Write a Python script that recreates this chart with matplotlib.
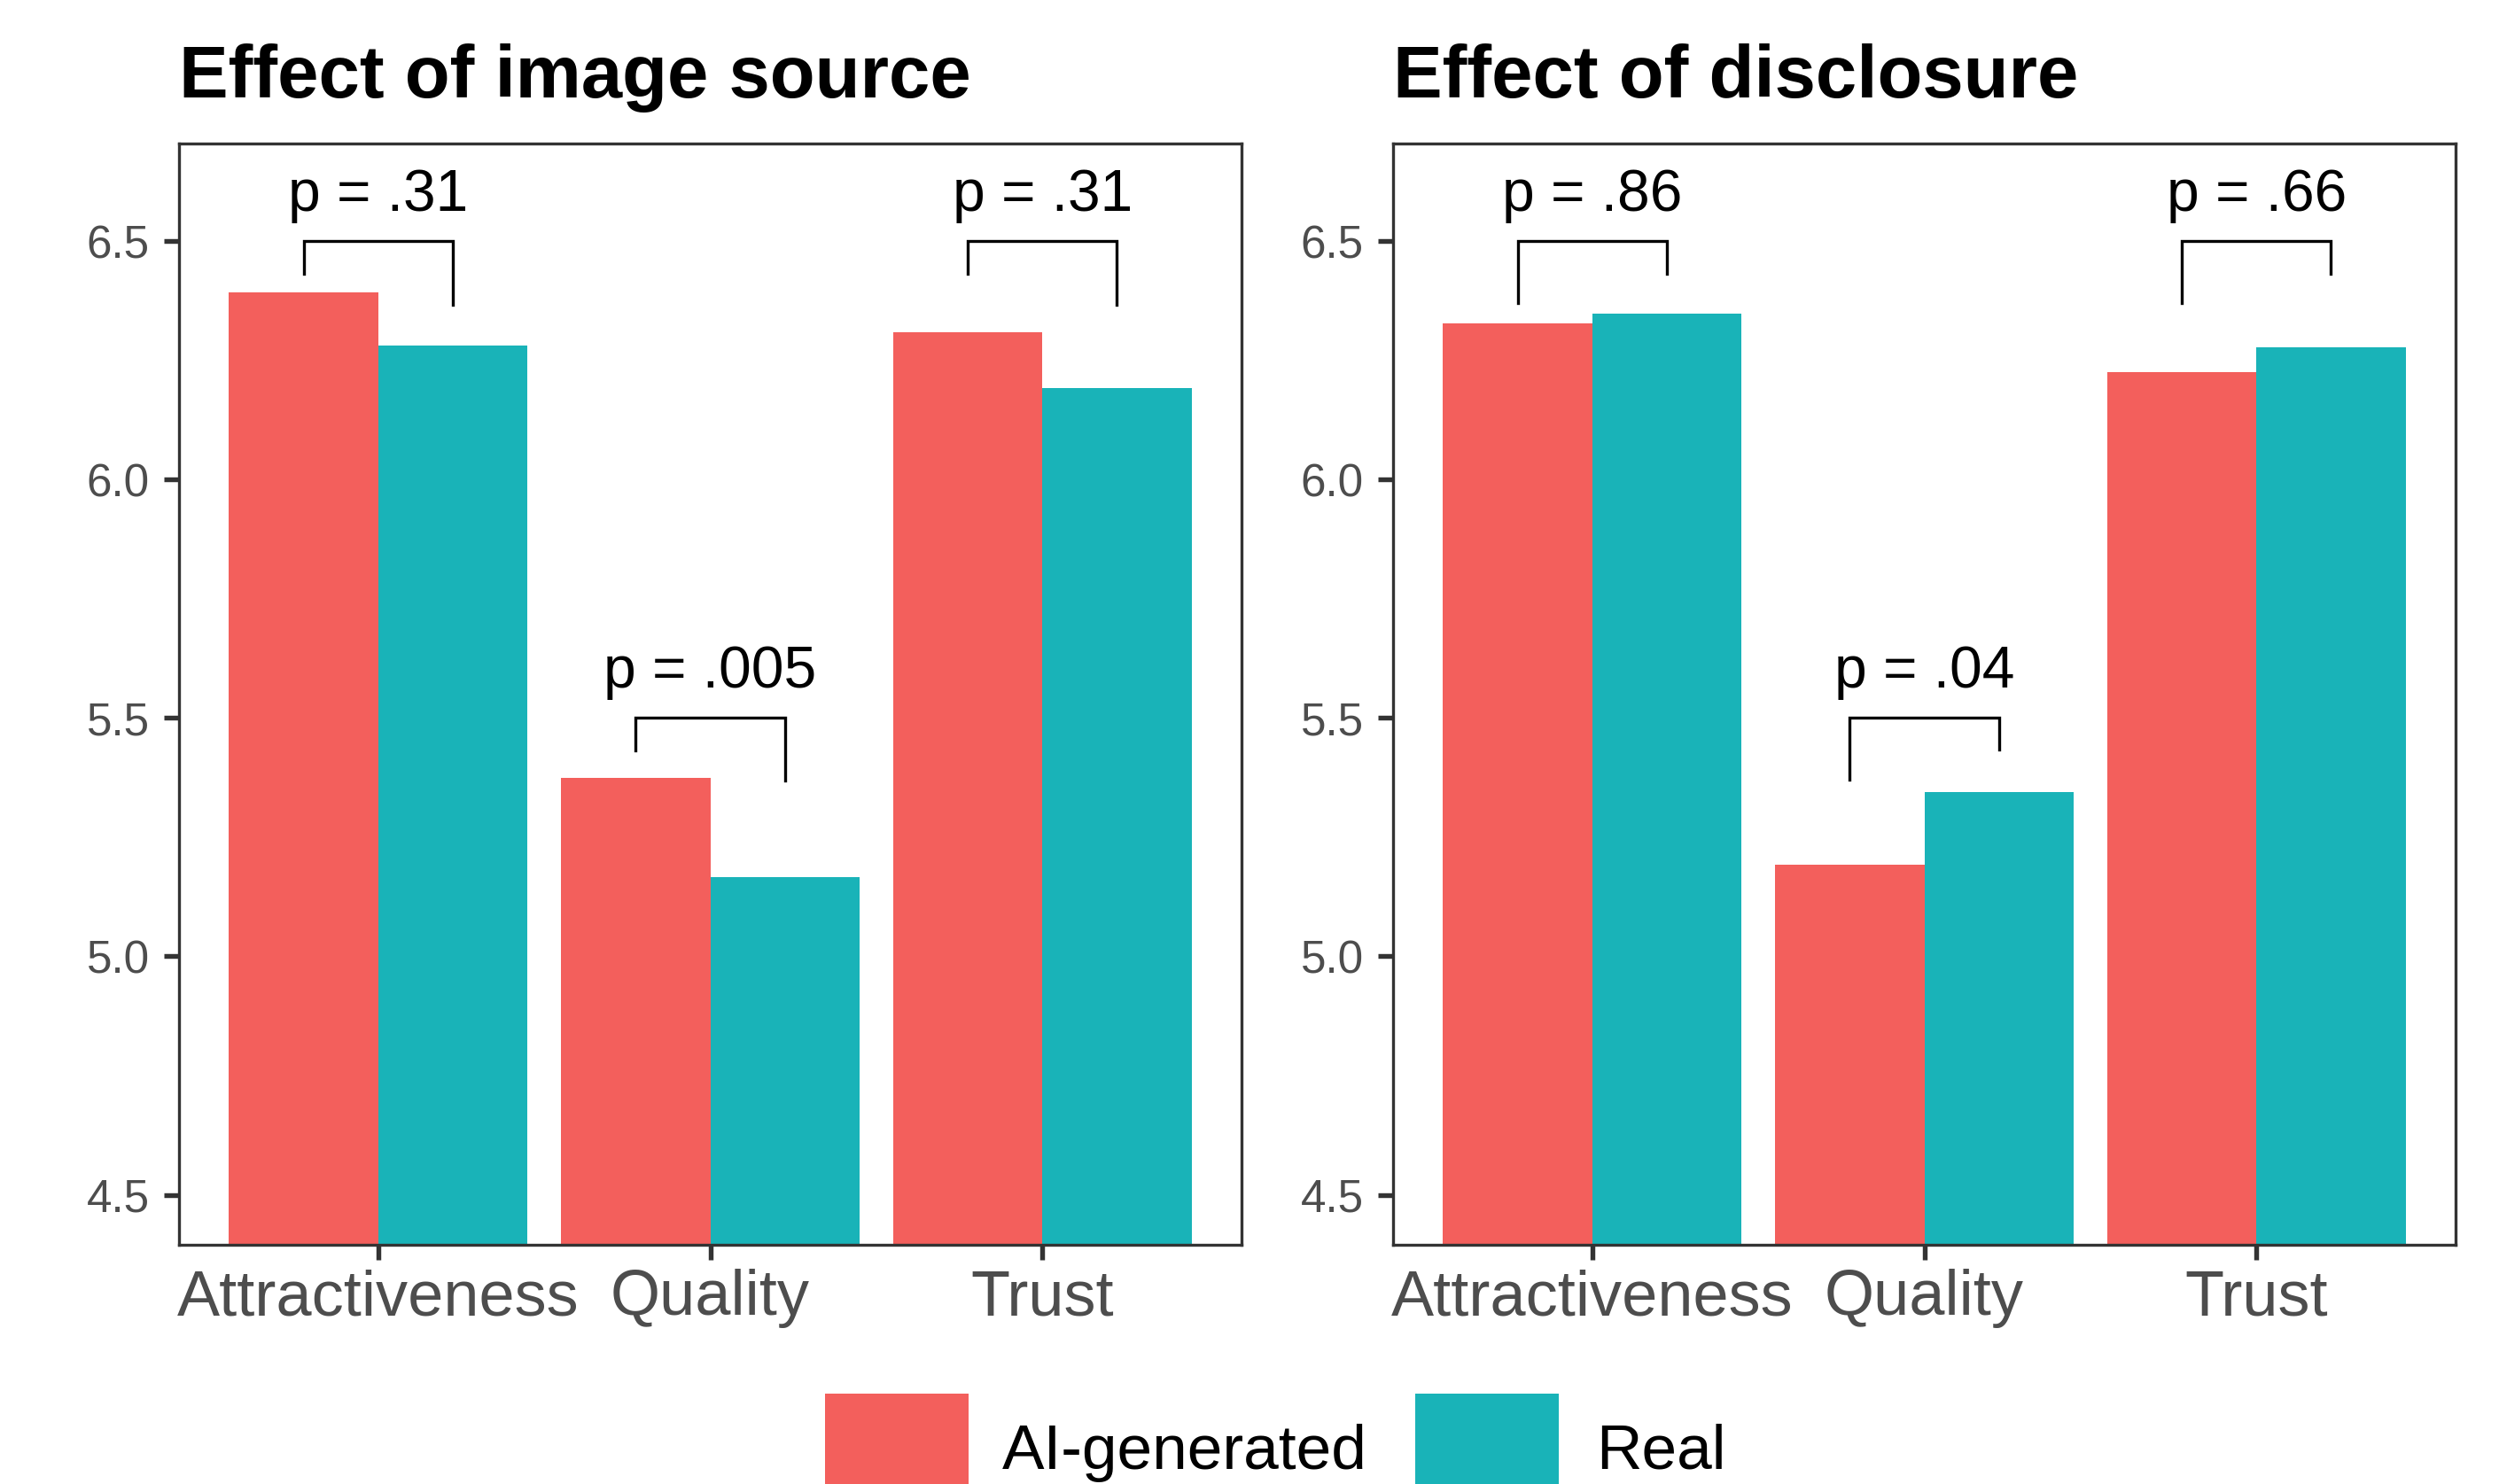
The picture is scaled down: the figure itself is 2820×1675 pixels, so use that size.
import matplotlib
matplotlib.use("Agg")
import matplotlib.pyplot as plt
from matplotlib.patches import Rectangle
import numpy as np

plt.rcParams['font.family'] = ['Liberation Sans', 'DejaVu Sans']

categories = ['Attractiveness', 'Quality', 'Trust']
groups = ['AI-generated', 'Real']
colors = ['#F35F5C', '#19B3B8']

titles = ['Effect of image source', 'Effect of disclosure']
source_ai = [6.393, 5.374, 6.310]
source_real = [6.281, 5.167, 6.193]
disclosure_ai = [6.327, 5.193, 6.225]
disclosure_real = [6.348, 5.345, 6.277]

source_p = ['p = .31', 'p = .005', 'p = .31']
disclosure_p = ['p = .86', 'p = .04', 'p = .66']
bracket_y = [6.5, 5.5, 6.5]
source_tips = [(0.068, 0.134), (0.068, 0.132), (0.068, 0.134)]
disclosure_tips = [(0.13, 0.068), (0.13, 0.067), (0.13, 0.068)]

yticks = [4.5, 5.0, 5.5, 6.0, 6.5]

W, H = 2820, 1675
dpi = 300
fig = plt.figure(figsize=(W / dpi, H / dpi), dpi=dpi)

panels = [
    (titles[0], source_ai, source_real, source_p, source_tips, 202),
    (titles[1], disclosure_ai, disclosure_real, disclosure_p, disclosure_tips, 1572),
]

ax_w = 1199
ax_top, ax_bot = 162, 1405
bw = 0.45
x = np.arange(1, len(categories) + 1)

for title, ai, real, pv, tips, left in panels:
    ax = fig.add_axes([left / W, (H - ax_bot) / H, ax_w / W, (ax_bot - ax_top) / H])
    ax.bar(x - bw / 2, ai, width=bw, color=colors[0], zorder=2)
    ax.bar(x + bw / 2, real, width=bw, color=colors[1], zorder=2)
    ax.set_xlim(0.4, 3.6)
    ax.set_ylim(4.395, 6.705)
    ax.set_yticks(yticks)
    ax.set_yticklabels([f'{v:.1f}' for v in yticks])
    ax.set_xticks(x)
    ax.set_xticklabels(categories)
    ax.tick_params(axis='y', labelsize=12.3, labelcolor='#4D4D4D', color='#333333',
                   width=1.3, length=4, pad=4)
    ax.tick_params(axis='x', labelsize=17.3, labelcolor='#4D4D4D', color='#333333',
                   width=1.3, length=4, pad=2.5)
    for s in ax.spines.values():
        s.set_color('#333333')
        s.set_linewidth(0.8)
        s.set_zorder(5)
    ax.set_title(title, loc='left', fontsize=20, fontweight='bold', pad=12.5)
    for i in range(len(categories)):
        x1, x2 = x[i] - bw / 2, x[i] + bw / 2
        top = bracket_y[i]
        ax.plot([x1, x1, x2, x2], [top - tips[i][0], top, top, top - tips[i][1]],
                color='black', lw=0.8, solid_joinstyle='miter', zorder=4)
        ax.text(x[i], top + 0.064, pv[i], ha='center', va='baseline', fontsize=15.8,
                color='black')

# legend (bottom, partially cut by figure edge)
key = 162
legend_items = [(931, 1131, groups[0], colors[0]), (1597, 1801, groups[1], colors[1])]
for kx, tx, lab, col in legend_items:
    fig.add_artist(Rectangle((kx / W, (H - 1573 - key) / H), key / W, key / H,
                             transform=fig.transFigure, facecolor=col, edgecolor='none'))
    fig.text(tx / W, (H - 1658) / H, lab, ha='left', va='baseline', fontsize=17.1,
             color='black')

fig.savefig('out.png', dpi=dpi, facecolor='white')
